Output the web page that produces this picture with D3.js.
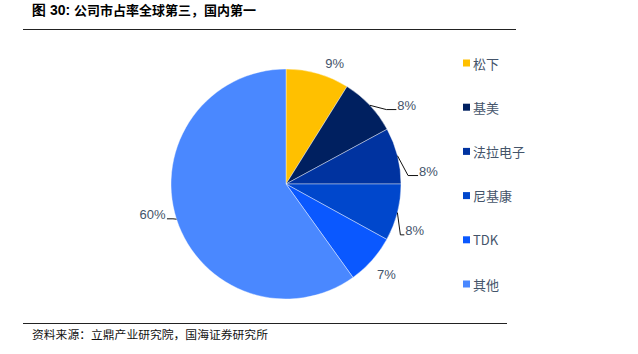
<!DOCTYPE html>
<html>
<head>
<meta charset="utf-8">
<script src="https://cdn.jsdelivr.net/npm/d3@7"></script>
<style>
  body { margin: 0; background: #fff; }
  svg { display: block; }
</style>
</head>
<body>
<div id="chart"></div>
<script>
// 市占率数据
const names = ['松下', '基美', '法拉电子', '尼基康', 'TDK', '其他'];
const shares = [8.9, 8.2, 7.9, 8.0, 7.1, 59.9];
const labels = ['9%', '8%', '8%', '8%', '7%', '60%'];
const colors = ['#FFC000', '#002060', '#0033A0', '#0047CC', '#0A58FF', '#4A88FF'];

const W = 638, H = 354;
const cx = 286, cy = 184, R = 115;
const txt = '#44546A';

const svg = d3.select('#chart').append('svg').attr('width', W).attr('height', H);

// 标题 + 分割线
const title = svg.append('text').attr('x', 32).attr('y', 15)
  .attr('font-weight', 'bold').attr('fill', '#000');
title.append('tspan').attr('font-family', 'Liberation Sans, Arial').attr('font-size', '14px').text('图 30: ');
title.append('tspan').attr('font-family', 'Noto Sans CJK SC').attr('font-size', '13px').text('公司市占率全球第三，国内第一');
svg.append('line').attr('x1', 23).attr('x2', 516).attr('y1', 29.5).attr('y2', 29.5)
  .attr('stroke', '#222').attr('stroke-width', 1);

svg.append('line').attr('x1', 23).attr('x2', 507).attr('y1', 323.5).attr('y2', 323.5)
  .attr('stroke', '#222').attr('stroke-width', 1);
svg.append('text').attr('x', 32).attr('y', 339)
  .attr('font-family', 'Noto Sans CJK SC').attr('font-size', '11.8px').attr('fill', '#111')
  .text('资料来源：立鼎产业研究院，国海证券研究所');

// 饼图
const data = names.map((n, i) => ({ name: n, value: shares[i], label: labels[i], color: colors[i] }));
const pie = d3.pie().value(d => d.value).sort(null);
const arcs = pie(data);
const arc = d3.arc().innerRadius(0).outerRadius(R);

const g = svg.append('g').attr('transform', `translate(${cx},${cy})`);
g.selectAll('path').data(arcs).join('path')
  .attr('d', arc).attr('fill', d => d.data.color)
  .attr('stroke', '#fff').attr('stroke-width', 0.4);

// 数据标签位置（角度/半径，Excel 风格避让）及是否画引导线
const labelAng = [22, 57, 85, 110, 132, 257];
const labelRad = [130, 144, 143, 137, 135, 137];
const leader = [false, true, true, true, false, true];
const polar = (deg, r) => {
  const a = deg * Math.PI / 180;
  return [r * Math.sin(a), -r * Math.cos(a)];
};

arcs.forEach((d, i) => {
  const [lx, ly] = polar(labelAng[i], labelRad[i]);
  const mid = (d.startAngle + d.endAngle) / 2;
  const ax = R * Math.sin(mid), ay = -R * Math.cos(mid);
  const right = lx > 0;
  const t = g.append('text').attr('x', lx).attr('y', ly)
    .attr('text-anchor', 'middle').attr('dominant-baseline', 'central')
    .attr('font-family', 'Liberation Sans, Arial').attr('font-size', '13px')
    .attr('fill', txt).text(d.data.label);
  if (!leader[i]) return;
  const bb = t.node().getBBox();
  const ex = right ? bb.x - 1 : bb.x + bb.width + 1;
  const ey = ly + 4;
  const elbow = right ? Math.max(ax + 3, ex - 10) : Math.min(ax - 1, ex + 6);
  g.append('polyline')
    .attr('points', `${ax},${ay} ${elbow},${ey} ${ex},${ey}`)
    .attr('fill', 'none').attr('stroke', '#111').attr('stroke-width', 1);
});

// 图例
const leg = svg.append('g').attr('transform', 'translate(463,63)');
const items = leg.selectAll('g').data(data).join('g')
  .attr('transform', (d, i) => `translate(0,${i * 44.2})`);
items.append('rect').attr('x', 0).attr('y', -3.5).attr('width', 7).attr('height', 7)
  .attr('fill', d => d.color);
items.append('text').attr('x', 10).attr('y', 0).attr('dominant-baseline', 'central')
  .attr('font-family', 'Noto Sans CJK SC, Liberation Sans').attr('font-size', '13px')
  .attr('fill', txt).text(d => d.name);
</script>
</body>
</html>
